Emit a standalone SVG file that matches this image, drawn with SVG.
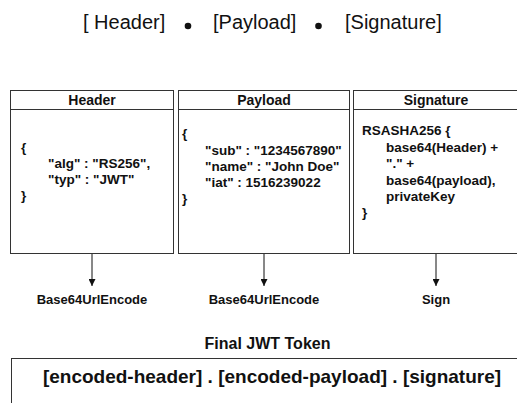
<svg xmlns="http://www.w3.org/2000/svg" width="517" height="403" viewBox="0 0 517 403">
  <defs>
    <marker id="arrow" viewBox="0 0 10 10" refX="10" refY="5" markerWidth="7" markerHeight="7" markerUnits="userSpaceOnUse" orient="auto">
      <path d="M0,0 L10,5 L0,10 Z" fill="#111"/>
    </marker>
  </defs>
  <style>
    text { font-family: "Liberation Sans", Arial, sans-serif; fill: #111; }
    .title { font-size: 20px; }
    .head { font-size: 14px; font-weight: bold; text-anchor: middle; }
    .body { font-size: 13.5px; font-weight: bold; }
    .step { font-size: 13px; font-weight: bold; text-anchor: middle; }
    .box { fill: #fff; stroke: #333; stroke-width: 1; }
    .edge { stroke: #111; stroke-width: 1; fill: none; marker-end: url(#arrow); }
  </style>
  <rect width="517" height="403" fill="#fff"/>

  <!-- structure line -->
  <g id="structure">
    <text class="title" x="83" y="29">[ Header]</text>
    <circle cx="188" cy="26" r="3.3" fill="#111"/>
    <text class="title" x="213" y="29">[Payload]</text>
    <circle cx="318.5" cy="26" r="3.3" fill="#111"/>
    <text class="title" x="345" y="29">[Signature]</text>
  </g>

  <!-- header part -->
  <g id="header">
    <rect class="box" x="10.5" y="90.5" width="163" height="163"/>
    <line x1="10.5" y1="109.5" x2="173.5" y2="109.5" stroke="#333"/>
    <text class="head" x="92" y="104.5">Header</text>
    <text class="body" x="21" y="152">{</text>
    <text class="body" x="48" y="168">"alg" : "RS256",</text>
    <text class="body" x="48" y="184">"typ" : "JWT"</text>
    <text class="body" x="21" y="200">}</text>
  </g>

  <!-- payload part -->
  <g id="payload">
    <rect class="box" x="178.5" y="90.5" width="171" height="163"/>
    <line x1="178.5" y1="109.5" x2="349.5" y2="109.5" stroke="#333"/>
    <text class="head" x="264" y="104.5">Payload</text>
    <text class="body" x="182" y="138">{</text>
    <text class="body" x="205" y="154.5">"sub" : "1234567890"</text>
    <text class="body" x="205" y="171">"name" : "John Doe"</text>
    <text class="body" x="205" y="187">"iat" : 1516239022</text>
    <text class="body" x="182" y="203">}</text>
  </g>

  <!-- signature part -->
  <g id="signature">
    <rect class="box" x="353.5" y="90.5" width="166" height="163"/>
    <line x1="353.5" y1="109.5" x2="519.5" y2="109.5" stroke="#333"/>
    <text class="head" x="436" y="104.5">Signature</text>
    <text class="body" x="362" y="135">RSASHA256 {</text>
    <text class="body" x="386" y="151.5">base64(Header) +</text>
    <text class="body" x="386" y="168">"." +</text>
    <text class="body" x="386" y="184.5">base64(payload),</text>
    <text class="body" x="386" y="201">privateKey</text>
    <text class="body" x="362" y="217">}</text>
  </g>

  <!-- connectors -->
  <g id="connectors">
    <line class="edge" x1="92" y1="254" x2="92" y2="286"/>
    <line class="edge" x1="264" y1="254" x2="264" y2="286"/>
    <line class="edge" x1="436" y1="254" x2="436" y2="286"/>
  </g>

  <!-- step labels -->
  <g id="step-labels">
    <text class="step" x="92" y="304">Base64UrlEncode</text>
    <text class="step" x="264" y="304">Base64UrlEncode</text>
    <text class="step" x="436" y="304">Sign</text>
  </g>

  <!-- final token -->
  <g id="final-token">
    <text x="267.5" y="349" font-size="16" font-weight="bold" text-anchor="middle">Final JWT Token</text>
    <rect class="box" x="11.5" y="358.5" width="520" height="60"/>
    <text x="272" y="383" font-size="19" font-weight="bold" text-anchor="middle">[encoded-header] . [encoded-payload] . [signature]</text>
  </g>
</svg>
